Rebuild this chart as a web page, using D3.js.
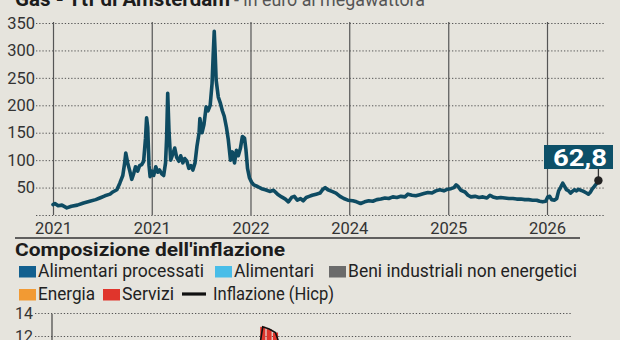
<!DOCTYPE html>
<html>
<head>
<meta charset="utf-8">
<script src="https://cdn.jsdelivr.net/npm/d3@7"></script>
<style>
  html, body { margin: 0; padding: 0; background: #e6e4dd; }
  svg { display: block; }
  text { font-family: Roboto, "Liberation Sans", sans-serif; }
</style>
</head>
<body>
<svg id="chart" width="620" height="340"></svg>
<script>
// gas price, Ttf Amsterdam (euro / MWh)
var gasDates = [
  "2021-01-01","2021-01-08","2021-01-20","2021-02-03","2021-02-21","2021-03-10","2021-04-01","2021-04-24",
  "2021-05-17","2021-06-08","2021-06-23","2021-07-12","2021-07-31","2021-08-10","2021-08-25","2021-09-05",
  "2021-09-16","2021-09-23","2021-09-27","2021-10-04","2021-10-12","2021-10-19","2021-10-26","2021-11-02",
  "2021-11-10","2021-11-17","2021-11-25","2021-12-02","2021-12-09","2021-12-13","2021-12-17","2021-12-22",
  "2021-12-26","2022-01-01","2022-01-08","2022-01-16","2022-01-23","2022-01-30","2022-02-07","2022-02-14",
  "2022-02-21","2022-02-25","2022-03-01","2022-03-06","2022-03-12","2022-03-19","2022-03-27","2022-04-03",
  "2022-04-11","2022-04-18","2022-04-26","2022-05-03","2022-05-11","2022-05-18","2022-05-26","2022-06-02",
  "2022-06-10","2022-06-17","2022-06-25","2022-06-28","2022-07-06","2022-07-13","2022-07-21","2022-07-28",
  "2022-08-05","2022-08-12","2022-08-16","2022-08-20","2022-08-23","2022-08-27","2022-09-04","2022-09-11",
  "2022-09-19","2022-09-26","2022-10-04","2022-10-11","2022-10-19","2022-10-26","2022-11-03","2022-11-10",
  "2022-11-17","2022-11-25","2022-12-02","2022-12-10","2022-12-15","2022-12-21","2022-12-28","2023-01-05",
  "2023-01-13","2023-01-27","2023-02-11","2023-02-25","2023-03-13","2023-03-27","2023-04-11","2023-04-26",
  "2023-05-10","2023-05-21","2023-06-02","2023-06-12","2023-06-23","2023-07-05","2023-07-15","2023-07-26",
  "2023-08-06","2023-08-17","2023-09-01","2023-09-15","2023-09-26","2023-10-04","2023-10-14","2023-10-29",
  "2023-11-13","2023-11-28","2023-12-12","2023-12-27","2024-01-14","2024-01-28","2024-02-12","2024-02-27",
  "2024-03-13","2024-03-28","2024-04-12","2024-04-27","2024-05-12","2024-05-26","2024-06-10","2024-06-25",
  "2024-07-10","2024-07-25","2024-08-05","2024-08-20","2024-09-03","2024-09-18","2024-10-03","2024-10-18",
  "2024-11-02","2024-11-16","2024-12-01","2024-12-16","2024-12-30","2025-01-11","2025-01-22","2025-01-30",
  "2025-02-06","2025-02-17","2025-03-04","2025-03-15","2025-03-26","2025-04-10","2025-04-25","2025-05-09",
  "2025-05-24","2025-06-04","2025-06-15","2025-06-30","2025-07-14","2025-07-29","2025-08-13","2025-08-28",
  "2025-09-11","2025-09-26","2025-10-11","2025-10-25","2025-11-09","2025-11-24","2025-12-05","2025-12-16",
  "2025-12-27","2026-01-04","2026-01-11","2026-01-18","2026-01-29","2026-02-06","2026-02-13","2026-02-20",
  "2026-02-28","2026-03-07","2026-03-14","2026-03-22","2026-03-29","2026-04-05","2026-04-13","2026-04-20",
  "2026-04-28","2026-05-05","2026-05-12","2026-05-20","2026-05-27","2026-06-03","2026-06-11","2026-06-18",
  "2026-06-25","2026-07-03","2026-07-10"
];
var gasValues = [
  19,21,17,18,13,16,18,22,
  25,28,31,35,38,42,46,58,
  72,95,113,95,80,65,75,88,
  80,90,92,98,140,177,160,90,
  70,80,72,88,78,82,75,72,
  95,140,222,150,100,110,122,105,
  98,108,95,103,98,85,90,82,
  95,125,150,176,150,165,197,190,
  200,240,290,335,300,246,215,205,
  190,180,160,137,100,115,95,118,
  108,122,143,140,120,85,68,60,
  55,52,48,46,43,45,38,33,
  29,24,32,34,27,30,26,32,
  34,36,38,40,47,50,46,43,
  40,34,30,27,26,24,21,24,
  26,25,28,29,31,30,33,32,
  34,33,38,36,35,37,39,41,
  40,44,46,44,47,48,50,55,
  52,45,42,36,33,34,32,33,
  31,36,33,31,32,31,30,30,
  29,29,28,28,27,27,25,24,
  25,33,34,28,27,30,44,50,
  58,52,46,44,40,43,46,44,
  47,45,44,42,40,38,42,48,
  52,57,62.8
];
var gasYTicks = [0, 50, 100, 150, 200, 250, 300, 350];
var gasXTicks = ["2021-01-01","2022-01-01","2023-01-01","2024-01-01","2025-01-01","2026-01-01"];
var gasXLabels = ["2021","2021","2022","2024","2025","2026"];
var lastLabel = "62,8";

// inflation composition (only the top of the chart is visible)
var inflMonths = ["2022-09-01","2022-10-01","2022-11-01","2022-12-01","2023-01-01"];
var alimProcessati = [1.5, 1.7, 1.8, 1.9, 2.0];
var alimentari     = [0.7, 0.8, 0.8, 0.8, 0.8];
var beniIndustr    = [1.1, 1.2, 1.3, 1.4, 1.5];
var energia        = [4.3, 7.0, 6.6, 6.0, 4.1];
var servizi        = [1.8, 2.1, 2.1, 2.2, 2.3];
var hicp           = [9.4, 12.8, 12.6, 12.3, 10.7];
var inflYTicks = [12, 14];

var legendNames  = ["Alimentari processati","Alimentari","Beni industriali non energetici","Energia","Servizi","Inflazione (Hicp)"];
var legendColors = ["#13608f","#48bde8","#6b6b6b","#f29a33","#e0352c","#111111"];

var parse = d3.timeParse("%Y-%m-%d");
var svg = d3.select("#chart");
var lineColor = "#0e4b62";

// ---------- title ----------
svg.append("text").attr("x", 15).attr("y", 6)
  .attr("font-size", 21).attr("font-weight", "bold").attr("fill", "#1c1c1c")
  .attr("textLength", 215).attr("lengthAdjust", "spacingAndGlyphs")
  .text("Gas - Ttf di Amsterdam");
svg.append("text").attr("x", 234).attr("y", 6)
  .attr("font-size", 19).attr("fill", "#555")
  .attr("textLength", 191).attr("lengthAdjust", "spacingAndGlyphs")
  .text("- in euro al megawattora");

// ---------- gas chart ----------
var x = d3.scaleTime()
  .domain([parse("2021-01-01"), parse("2026-01-01")])
  .range([53, 547]);
var y = d3.scaleLinear().domain([0, 350]).range([215, 23]);

var yAxis = svg.append("g").attr("transform", "translate(36,0)")
  .call(d3.axisLeft(y).tickValues(gasYTicks).tickSize(-569).tickPadding(1)
    .tickFormat(function(d){ return d === 0 ? "" : d; }));
yAxis.select(".domain").remove();
yAxis.selectAll("line").attr("stroke", "#555").attr("stroke-dasharray", "1.3,1.9");
yAxis.selectAll("text").attr("font-size", 16.5).attr("fill", "#333")
  .attr("font-family", "Roboto, sans-serif");

var xAxis = svg.append("g").attr("transform", "translate(0,215)")
  .call(d3.axisBottom(x).tickValues(gasXTicks.map(parse)).tickSize(-193).tickPadding(7)
    .tickFormat(function(d, i){ return gasXLabels[i]; }));
xAxis.select(".domain").remove();
xAxis.selectAll("line").attr("stroke", "#555").attr("stroke-width", 1.2);
xAxis.selectAll("text").attr("font-size", 16.5).attr("fill", "#333")
  .attr("font-family", "Roboto, sans-serif");

var gas = gasDates.map(function(d, i){ return {date: parse(d), value: gasValues[i]}; });

svg.append("path").datum(gas)
  .attr("fill", "none").attr("stroke", lineColor).attr("stroke-width", 3.6)
  .attr("stroke-linejoin", "round").attr("stroke-linecap", "round")
  .attr("d", d3.line().x(function(d){ return x(d.date); }).y(function(d){ return y(d.value); }));

var last = gas[gas.length - 1];
var lx = x(last.date), ly = y(last.value);
svg.append("line").attr("x1", lx).attr("x2", lx).attr("y1", 169).attr("y2", ly)
  .attr("stroke", "#333").attr("stroke-width", 1.3);
svg.append("circle").attr("cx", lx).attr("cy", ly).attr("r", 4.2).attr("fill", "#222");
svg.append("rect").attr("x", 544).attr("y", 145).attr("width", 69).attr("height", 24)
  .attr("fill", "#0d5068");
svg.append("text").attr("x", 553).attr("y", 166)
  .attr("font-size", 23).attr("font-weight", "bold").attr("fill", "#fff")
  .attr("textLength", 54).attr("lengthAdjust", "spacingAndGlyphs")
  .text(lastLabel);

// separator
svg.append("line").attr("x1", 15).attr("x2", 580).attr("y1", 238).attr("y2", 238)
  .attr("stroke", "#333").attr("stroke-width", 1.5);

// ---------- inflation section ----------
svg.append("text").attr("x", 15).attr("y", 256)
  .attr("font-size", 19).attr("font-weight", "bold").attr("fill", "#1c1c1c")
  .attr("textLength", 270).attr("lengthAdjust", "spacingAndGlyphs")
  .text("Composizione dell'inflazione");

// legend: [x of key, x of text, text width, row]
var legendPos = [[19,38,166,0],[215,234,80,0],[329,348,229,0],[19,38,57,1],[103,122,52,1],[182,213,121,1]];
var legend = svg.append("g");
legendNames.forEach(function(name, i){
  var p = legendPos[i], rowY = p[3] === 0 ? 277 : 300;
  if (i < 5) {
    legend.append("rect").attr("x", p[0]).attr("y", rowY - 11).attr("width", 17).attr("height", 11.5)
      .attr("fill", legendColors[i]);
  } else {
    legend.append("line").attr("x1", p[0]).attr("x2", p[0] + 24).attr("y1", rowY - 6).attr("y2", rowY - 6)
      .attr("stroke", legendColors[i]).attr("stroke-width", 3.2);
  }
  legend.append("text").attr("x", p[1]).attr("y", rowY)
    .attr("font-size", 18.5).attr("fill", "#222")
    .attr("textLength", p[2]).attr("lengthAdjust", "spacingAndGlyphs")
    .text(name);
});

var x2 = d3.scaleTime()
  .domain([parse("2020-01-01"), parse("2026-07-01")])
  .range([52, 544]);
var y2 = d3.scaleLinear().domain([12, 14]).range([336, 313]);

var y2Axis = svg.append("g").attr("transform", "translate(35,0)")
  .call(d3.axisLeft(y2).tickValues(inflYTicks).tickSize(-537).tickPadding(2).tickFormat(d3.format("d")));
y2Axis.select(".domain").remove();
y2Axis.selectAll("line").attr("stroke", "#555").attr("stroke-dasharray", "1.3,1.9");
y2Axis.selectAll("text").attr("font-size", 16).attr("fill", "#333")
  .attr("font-family", "Roboto, sans-serif");

svg.append("line").attr("x1", 52).attr("x2", 52).attr("y1", 314).attr("y2", 340)
  .attr("stroke", "#444").attr("stroke-width", 1.2);

var inflRows = inflMonths.map(function(m, i){
  return {date: parse(m), ap: alimProcessati[i], al: alimentari[i], bi: beniIndustr[i],
          en: energia[i], se: servizi[i], hicp: hicp[i]};
});
var keys = ["ap","al","bi","en","se"];
var stacked = d3.stack().keys(keys)(inflRows);

stacked.forEach(function(layer, k){
  svg.append("g").attr("fill", legendColors[k])
    .selectAll("rect").data(layer).enter().append("rect")
    .attr("x", function(d){ return x2(d.data.date); })
    .attr("width", function(d){ return x2(d3.timeMonth.offset(d.data.date, 1)) - x2(d.data.date) - 1.2; })
    .attr("y", function(d){ return y2(d[1]); })
    .attr("height", function(d){ return y2(d[0]) - y2(d[1]); });
});

svg.append("path").datum(inflRows)
  .attr("fill", "none").attr("stroke", "#111").attr("stroke-width", 1.6)
  .attr("d", d3.line()
    .x(function(d){ return x2(d.date) + 2.6; })
    .y(function(d){ return y2(d.hicp); }));
</script>
</body>
</html>
